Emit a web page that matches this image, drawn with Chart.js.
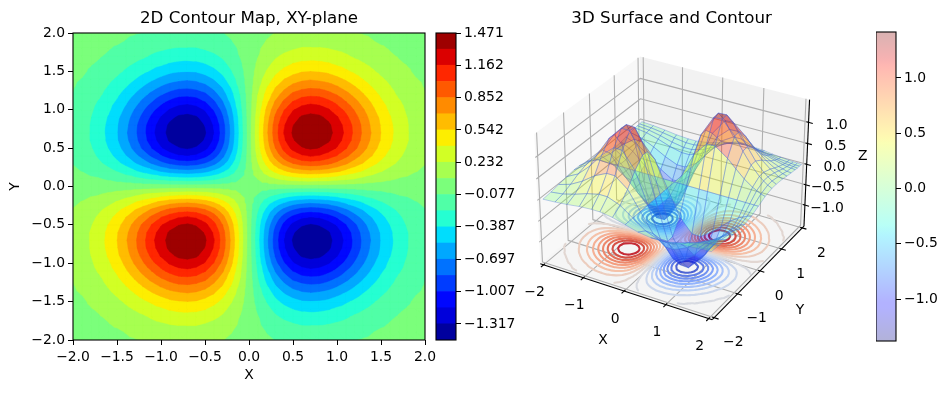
<!DOCTYPE html>
<html lang="en">
<head>
<meta charset="UTF-8">
<title>2D Contour Map and 3D Surface</title>
<script src="https://cdn.jsdelivr.net/npm/chart.js"></script>
<style>
    html, body { margin: 0; padding: 0; background: #fff; }
    #page { position: relative; width: 949px; height: 393px; overflow: hidden; }
    canvas { position: absolute; top: 0; }
</style>
</head>
<body>
<div id="page">
    <canvas id="contourChart" width="470" height="393" style="left:0"></canvas>
    <canvas id="contourBar" width="100" height="393" style="left:430px"></canvas>
    <canvas id="surfaceChart" width="395" height="393" style="left:480px"></canvas>
    <canvas id="surfaceBar" width="73" height="393" style="left:876px"></canvas>
</div>
<script>
// Z for x = 0.1..2.0 (columns), y = 0.1..2.0 (rows), upper right quadrant.
// The other quadrants are the same numbers with the sign flipped, z is 0 on both axes.
const zQuadrant = [
    [.08,.15,.22,.27,.31,.33,.34,.33,.32,.29,.26,.23,.19,.16,.13,.10,.07,.06,.04,.03],
    [.15,.30,.42,.52,.60,.64,.66,.65,.62,.57,.50,.44,.37,.30,.24,.19,.15,.11,.08,.06],
    [.22,.42,.60,.75,.85,.92,.94,.93,.88,.81,.72,.62,.53,.43,.35,.27,.21,.16,.11,.08],
    [.27,.52,.75,.93,1.06,1.14,1.17,1.15,1.09,1.00,.89,.77,.65,.54,.43,.34,.26,.19,.14,.10],
    [.31,.60,.85,1.06,1.21,1.30,1.34,1.31,1.25,1.15,1.02,.89,.75,.61,.49,.39,.29,.22,.16,.12],
    [.33,.64,.92,1.14,1.30,1.40,1.44,1.41,1.34,1.23,1.10,.95,.80,.66,.53,.42,.32,.24,.17,.12],
    [.34,.66,.94,1.17,1.34,1.44,1.471,1.45,1.37,1.26,1.13,.97,.82,.68,.54,.43,.32,.24,.18,.13],
    [.33,.65,.93,1.15,1.31,1.41,1.45,1.42,1.35,1.24,1.11,.96,.81,.66,.53,.42,.32,.24,.17,.12],
    [.32,.62,.88,1.09,1.25,1.34,1.37,1.35,1.28,1.18,1.05,.91,.77,.63,.51,.40,.30,.23,.16,.12],
    [.29,.57,.81,1.00,1.15,1.23,1.26,1.24,1.18,1.08,.97,.84,.71,.58,.46,.36,.28,.21,.15,.11],
    [.26,.50,.72,.89,1.02,1.10,1.13,1.11,1.05,.97,.86,.75,.63,.52,.41,.33,.25,.19,.13,.10],
    [.23,.44,.62,.77,.89,.95,.97,.96,.91,.84,.75,.65,.55,.45,.36,.28,.21,.16,.12,.08],
    [.19,.37,.53,.65,.75,.80,.82,.81,.77,.71,.63,.55,.46,.38,.30,.24,.18,.14,.10,.07],
    [.16,.30,.43,.54,.61,.66,.68,.66,.63,.58,.52,.45,.38,.31,.25,.20,.15,.11,.08,.06],
    [.13,.24,.35,.43,.49,.53,.54,.53,.51,.46,.41,.36,.30,.25,.20,.16,.12,.09,.06,.05],
    [.10,.19,.27,.34,.39,.42,.43,.42,.40,.36,.33,.28,.24,.20,.16,.12,.09,.07,.05,.04],
    [.07,.15,.21,.26,.29,.32,.32,.32,.30,.28,.25,.21,.18,.15,.12,.09,.07,.05,.04,.03],
    [.06,.11,.16,.19,.22,.24,.24,.24,.23,.21,.19,.16,.14,.11,.09,.07,.05,.04,.03,.02],
    [.04,.08,.11,.14,.16,.17,.18,.17,.16,.15,.13,.12,.10,.08,.06,.05,.04,.03,.02,.02],
    [.03,.06,.08,.10,.12,.12,.13,.12,.12,.11,.10,.08,.07,.06,.05,.04,.03,.02,.02,.01]
];

const contourLevels = [-1.471,-1.316,-1.162,-1.007,-0.852,-0.697,-0.542,-0.387,-0.232,-0.077,0.077,0.232,0.387,0.542,0.697,0.852,1.007,1.162,1.316,1.471];
const contourBarTicks = [-1.317,-1.007,-0.697,-0.387,-0.077,0.232,0.542,0.852,1.162,1.471];
const xyTicks3d = [-2,-1,0,1,2];
const zTicks3d = [-1,-0.5,0,0.5,1];
const surfaceBarTicks = [-1,-0.5,0,0.5,1];
const surfaceRange = [-1.38,1.416];
// wire positions on the surface, wider towards -2 and tighter towards +2 as seen in the picture
const meshLines = [-2,-1.7,-1.4,-1.1,-0.8,-0.6,-0.3,0,0.3,0.6,0.8,1.1,1.3,1.5,1.7,1.8,1.9,2];

const BLACK = '#000';
const FONT = 'DejaVu Sans';
const TICK_SIZE = 13.9;
const TITLE_SIZE = 16.67;
const MINUS = '\u2212';
const minus = s => String(s).replace('-', MINUS);

Chart.defaults.font.family = FONT;
Chart.defaults.font.size = TICK_SIZE;
Chart.defaults.color = BLACK;
Chart.defaults.animation = false;

const gridXY = Array.from({ length: 41 }, (_, i) => (i - 20) / 10);
const zGrid = gridXY.map((_, j) => gridXY.map((_, i) => {
    const a = Math.abs(i - 20), b = Math.abs(j - 20);
    if (!a || !b) return 0;
    return Math.sign((i - 20) * (j - 20)) * zQuadrant[b - 1][a - 1];
}));
const gridIndex = v => Math.round(v * 10) + 20;

function ramp(stops, t) {
    for (let i = 1; i < stops.length; i++) {
        if (t <= stops[i][0]) {
            const [t0, v0] = stops[i - 1], [t1, v1] = stops[i];
            return v0 + (v1 - v0) * (t - t0) / (t1 - t0);
        }
    }
    return stops[stops.length - 1][1];
}
const JET_R = [[0,0],[.35,0],[.66,1],[.89,1],[1,.5]];
const JET_G = [[0,0],[.125,0],[.375,1],[.64,1],[.91,0],[1,0]];
const JET_B = [[0,.5],[.11,1],[.34,1],[.65,0],[1,0]];
function jet(t, alpha = 1) {
    const c = [JET_R, JET_G, JET_B].map(s => Math.round(255 * ramp(s, t)));
    return `rgba(${c[0]},${c[1]},${c[2]},${alpha})`;
}
const COOL_R = [[0,59],[.125,103],[.25,141],[.375,192],[.5,221],[.625,245],[.75,244],[.875,221],[1,180]];
const COOL_G = [[0,76],[.125,136],[.25,176],[.375,212],[.5,220],[.625,196],[.75,154],[.875,96],[1,4]];
const COOL_B = [[0,192],[.125,238],[.25,254],[.375,245],[.5,220],[.625,172],[.75,123],[.875,75],[1,38]];
function coolwarm(t) {
    const c = [COOL_R, COOL_G, COOL_B].map(s => Math.round(ramp(s, t)));
    return `rgb(${c[0]},${c[1]},${c[2]})`;
}
const bandColors = contourLevels.slice(1).map((_, k) => jet((k + .5) / (contourLevels.length - 1)));

// every grid cell is cut in two triangles, points are [x, y, z]
function eachTriangle(cb) {
    for (let j = 0; j < 40; j++) {
        for (let i = 0; i < 40; i++) {
            const p = (a, b) => [gridXY[a], gridXY[b], zGrid[b][a]];
            const a = p(i, j), b = p(i + 1, j), c = p(i + 1, j + 1), d = p(i, j + 1);
            if ((i - 19.5) * (j - 19.5) > 0) { cb(a, b, c); cb(a, c, d); }
            else { cb(a, b, d); cb(b, c, d); }
        }
    }
}
const crossing = (p, q, level) => {
    const t = (level - p[2]) / (q[2] - p[2]);
    return [p[0] + t * (q[0] - p[0]), p[1] + t * (q[1] - p[1]), level];
};
function clipAbove(tri, level) {
    const out = [];
    tri.forEach((p, n) => {
        const q = tri[(n + 1) % 3];
        if (p[2] >= level) out.push(p);
        if ((p[2] >= level) !== (q[2] >= level)) out.push(crossing(p, q, level));
    });
    return out;
}
function levelSegment(tri, level) {
    const out = [];
    tri.forEach((p, n) => {
        const q = tri[(n + 1) % 3];
        if ((p[2] >= level) !== (q[2] >= level)) out.push(crossing(p, q, level));
    });
    return out;
}

const framePlugin = {
    id: 'frame',
    afterDraw(chart) {
        const { ctx, chartArea: a } = chart;
        ctx.save();
        ctx.strokeStyle = BLACK;
        ctx.lineWidth = 1.1;
        ctx.strokeRect(a.left, a.top, a.right - a.left, a.bottom - a.top);
        ctx.restore();
    }
};
const titlePlugin = (text, y, dx = 0) => ({
    id: 'panelTitle',
    afterDraw(chart) {
        const { ctx, chartArea: a } = chart;
        ctx.save();
        ctx.font = `${TITLE_SIZE}px "${FONT}"`;
        ctx.fillStyle = BLACK;
        ctx.textAlign = 'center';
        ctx.textBaseline = 'middle';
        ctx.fillText(text, (a.left + a.right) / 2 + dx, y);
        ctx.restore();
    }
});

const filledContours = {
    id: 'filledContours',
    beforeDatasetsDraw(chart) {
        const { ctx, chartArea: a, scales: { x: sx, y: sy } } = chart;
        ctx.save();
        ctx.beginPath();
        ctx.rect(a.left, a.top, a.right - a.left, a.bottom - a.top);
        ctx.clip();
        ctx.fillStyle = bandColors[0];
        ctx.fillRect(a.left, a.top, a.right - a.left, a.bottom - a.top);
        for (let k = 1; k < bandColors.length; k++) {
            ctx.beginPath();
            eachTriangle((p, q, r) => {
                const poly = clipAbove([p, q, r], contourLevels[k]);
                poly.forEach((v, n) => {
                    const px = sx.getPixelForValue(v[0]), py = sy.getPixelForValue(v[1]);
                    if (n) ctx.lineTo(px, py); else ctx.moveTo(px, py);
                });
                if (poly.length) ctx.closePath();
            });
            ctx.fillStyle = ctx.strokeStyle = bandColors[k];
            ctx.lineWidth = 0.4;
            ctx.fill();
            ctx.stroke();
        }
        ctx.restore();
    }
};

new Chart(document.getElementById('contourChart'), {
    type: 'scatter',
    data: { datasets: [{ data: zGrid.flatMap((row, j) => row.map((z, i) => ({ x: gridXY[i], y: gridXY[j], z }))), pointRadius: 0 }] },
    options: {
        responsive: false,
        events: [],
        layout: { padding: { top: 33, right: 45 } },
        plugins: { legend: { display: false }, tooltip: { enabled: false } },
        scales: {
            x: {
                min: -2, max: 2,
                afterFit: s => { s.height = 53; },
                border: { display: false },
                grid: { drawOnChartArea: false, color: BLACK, tickLength: 5 },
                ticks: { stepSize: 0.5, maxRotation: 0, padding: 4, callback: v => minus(v.toFixed(1)) },
                title: { display: true, text: 'X', padding: { top: 0, bottom: 9 } }
            },
            y: {
                min: -2, max: 2,
                afterFit: s => { s.width = 73; },
                border: { display: false },
                grid: { drawOnChartArea: false, color: BLACK, tickLength: 5 },
                ticks: { stepSize: 0.5, padding: 3, callback: v => minus(v.toFixed(1)) },
                title: { display: true, text: 'Y', padding: { top: 7, bottom: 0 } }
            }
        }
    },
    plugins: [filledContours, framePlugin, titlePlugin('2D Contour Map, XY-plane', 19)]
});

const barScale = (lo, hi, ticks, label) => ({
    position: 'right',
    min: lo, max: hi,
    afterBuildTicks: s => { s.ticks = ticks.map(value => ({ value })); },
    border: { display: false },
    grid: { drawOnChartArea: false, color: BLACK, tickLength: 5 },
    ticks: { padding: 3, autoSkip: false, callback: label }
});

new Chart(document.getElementById('contourBar'), {
    type: 'bar',
    data: {
        labels: ['levels'],
        datasets: bandColors.map((color, k) => ({
            data: [[contourLevels[k], contourLevels[k + 1]]],
            backgroundColor: color,
            grouped: false,
            barPercentage: 1,
            categoryPercentage: 1
        }))
    },
    options: {
        responsive: false,
        events: [],
        layout: { padding: { top: 33, bottom: 53, left: 6 } },
        plugins: { legend: { display: false }, tooltip: { enabled: false } },
        scales: {
            x: { display: false },
            y: { ...barScale(contourLevels[0], contourLevels[19], contourBarTicks, v => minus(v.toFixed(3))), afterFit: s => { s.width = 74; } }
        }
    },
    plugins: [framePlugin]
});

new Chart(document.getElementById('surfaceBar'), {
    type: 'bar',
    data: {
        labels: ['surface'],
        datasets: [{
            data: [surfaceRange],
            barPercentage: 1,
            categoryPercentage: 1,
            backgroundColor: ({ chart }) => {
                const a = chart.chartArea;
                if (!a) return 'transparent';
                const g = chart.ctx.createLinearGradient(0, a.bottom, 0, a.top);
                for (let n = 0; n <= 64; n++) g.addColorStop(n / 64, jet(n / 64, 0.3));
                return g;
            }
        }]
    },
    options: {
        responsive: false,
        events: [],
        layout: { padding: { top: 32, bottom: 52 } },
        plugins: { legend: { display: false }, tooltip: { enabled: false } },
        scales: {
            x: { display: false },
            y: { ...barScale(surfaceRange[0], surfaceRange[1], surfaceBarTicks, v => minus(v.toFixed(1))), afterFit: s => { s.width = 53; } }
        }
    },
    plugins: [framePlugin]
});

// mplot3d camera: elev 30, azim -60, dist 10, box aspect 4:4:3
const XY_EDGE = 2.0833, Z_EDGE = 1.532, RING_Z = -1.471;
const BOX = [1.14286, 1.14286, 0.85714];
const CAM_U = [0.86603, 0.5, 0], CAM_V = [-0.25, 0.43301, 0.86603], CAM_W = [0.43301, -0.75, 0.5];
const dot = (a, b) => a[0] * b[0] + a[1] * b[1] + a[2] * b[2];
function viewOf(x, y, z) {
    const d = [x / XY_EDGE * BOX[0] / 2, y / XY_EDGE * BOX[1] / 2, z / Z_EDGE * BOX[2] / 2];
    const depth = 10 - dot(CAM_W, d);
    return { x: dot(CAM_U, d) / depth, y: dot(CAM_V, d) / depth, depth };
}

const surface3d = {
    id: 'surface3d',
    beforeDatasetsDraw(chart) {
        const { ctx, scales: { x: sx, y: sy } } = chart;
        const pix = (x, y, z) => {
            const v = viewOf(x, y, z);
            return [sx.getPixelForValue(v.x), sy.getPixelForValue(v.y)];
        };
        const path = pts => {
            ctx.beginPath();
            pts.forEach((p, n) => {
                const q = pix(...p);
                if (n) ctx.lineTo(q[0], q[1]); else ctx.moveTo(q[0], q[1]);
            });
        };
        const E = XY_EDGE, Z = Z_EDGE;
        ctx.save();
        ctx.lineJoin = 'round';

        // panes
        [
            ['rgba(242,242,242,.5)', [[-E,-E,-Z],[-E,E,-Z],[-E,E,Z],[-E,-E,Z]]],
            ['rgba(230,230,230,.5)', [[-E,E,-Z],[E,E,-Z],[E,E,Z],[-E,E,Z]]],
            ['rgba(236,236,236,.5)', [[-E,-E,-Z],[E,-E,-Z],[E,E,-Z],[-E,E,-Z]]]
        ].forEach(([color, pts]) => {
            path(pts);
            ctx.closePath();
            ctx.fillStyle = color;
            ctx.fill();
        });

        // grid
        ctx.strokeStyle = '#b0b0b0';
        ctx.lineWidth = 1.1;
        xyTicks3d.forEach(t => {
            path([[t,-E,-Z],[t,E,-Z],[t,E,Z]]);
            ctx.stroke();
            path([[E,t,-Z],[-E,t,-Z],[-E,t,Z]]);
            ctx.stroke();
        });
        zTicks3d.forEach(t => {
            path([[-E,-E,t],[-E,E,t],[E,E,t]]);
            ctx.stroke();
        });

        // contour lines on the floor, same levels as the filled map
        ctx.lineWidth = 2.08;
        ctx.lineCap = 'round';
        contourLevels.slice(1, -1).forEach(level => {
            ctx.beginPath();
            eachTriangle((p, q, r) => {
                const seg = levelSegment([p, q, r], level);
                if (seg.length === 2) {
                    const s0 = pix(seg[0][0], seg[0][1], RING_Z), s1 = pix(seg[1][0], seg[1][1], RING_Z);
                    ctx.moveTo(s0[0], s0[1]);
                    ctx.lineTo(s1[0], s1[1]);
                }
            });
            ctx.strokeStyle = coolwarm((level - contourLevels[0]) / (contourLevels[19] - contourLevels[0]));
            ctx.stroke();
        });
        ctx.lineCap = 'butt';

        // surface, far faces first
        const faces = [];
        const node = (x, y) => [x, y, zGrid[gridIndex(y)][gridIndex(x)]];
        for (let j = 0; j < meshLines.length - 1; j++) {
            for (let i = 0; i < meshLines.length - 1; i++) {
                const x0 = meshLines[i], x1 = meshLines[i + 1], y0 = meshLines[j], y1 = meshLines[j + 1];
                const corners = [node(x0, y0), node(x1, y0), node(x1, y1), node(x0, y1)];
                const mean = corners.reduce((s, c) => s + c[2], 0) / 4;
                const depth = corners.reduce((s, c) => s + viewOf(...c).depth, 0) / 4;
                faces.push({ corners, mean, depth });
            }
        }
        faces.sort((a, b) => b.depth - a.depth);
        ctx.lineWidth = 0.8;
        faces.forEach(f => {
            path(f.corners);
            ctx.closePath();
            const t = (f.mean - surfaceRange[0]) / (surfaceRange[1] - surfaceRange[0]);
            ctx.fillStyle = jet(Math.min(1, Math.max(0, t)), 0.3);
            ctx.fill();
            ctx.strokeStyle = 'rgba(65,105,225,.4)';
            ctx.stroke();
        });

        // axis lines and tick marks
        ctx.strokeStyle = BLACK;
        ctx.lineWidth = 1.1;
        [[[-E,-E,-Z],[E,-E,-Z]], [[E,-E,-Z],[E,E,-Z]], [[E,E,-Z],[E,E,Z]]].forEach(seg => {
            path(seg);
            ctx.stroke();
        });
        xyTicks3d.forEach(t => {
            path([[t,-E + 0.05,-Z],[t,-E - 0.1,-Z]]);
            ctx.stroke();
            path([[E - 0.05,t,-Z],[E + 0.1,t,-Z]]);
            ctx.stroke();
        });
        zTicks3d.forEach(t => {
            path([[E - 0.05,E,t],[E + 0.1,E,t]]);
            ctx.stroke();
        });

        // tick labels and axis labels
        ctx.fillStyle = BLACK;
        ctx.font = `${TICK_SIZE}px "${FONT}"`;
        ctx.textBaseline = 'middle';
        ctx.textAlign = 'center';
        const label = (text, p, dx, dy) => {
            const q = pix(...p);
            ctx.fillText(text, q[0] + dx, q[1] + dy);
        };
        xyTicks3d.forEach(t => {
            label(minus(t), [t, -E, -Z], -9, 28);
            label(minus(t), [E, t, -Z], 19, 25);
        });
        label('X', [0, -E, -Z], -21, 49);
        label('Y', [E, 0, -Z], 40, 39);
        label('Z', [E, E, 0], 56, -8);
        ctx.textAlign = 'right';
        zTicks3d.forEach(t => label(minus(t.toFixed(1)), [E, E, t], 39, 3));
        ctx.restore();
    }
};

new Chart(document.getElementById('surfaceChart'), {
    type: 'scatter',
    data: { datasets: [{ data: zGrid.flatMap((row, j) => row.map((z, i) => viewOf(gridXY[i], gridXY[j], z))), pointRadius: 0 }] },
    options: {
        responsive: false,
        events: [],
        layout: { padding: { left: 30.6, right: 45.3, top: 26.7, bottom: 47.1 } },
        plugins: { legend: { display: false }, tooltip: { enabled: false } },
        scales: {
            x: { display: false, min: -0.095, max: 0.09 },
            y: { display: false, min: -0.095, max: 0.09 }
        }
    },
    plugins: [surface3d, titlePlugin('3D Surface and Contour', 19, 1.5)]
});
</script>
</body>
</html>
